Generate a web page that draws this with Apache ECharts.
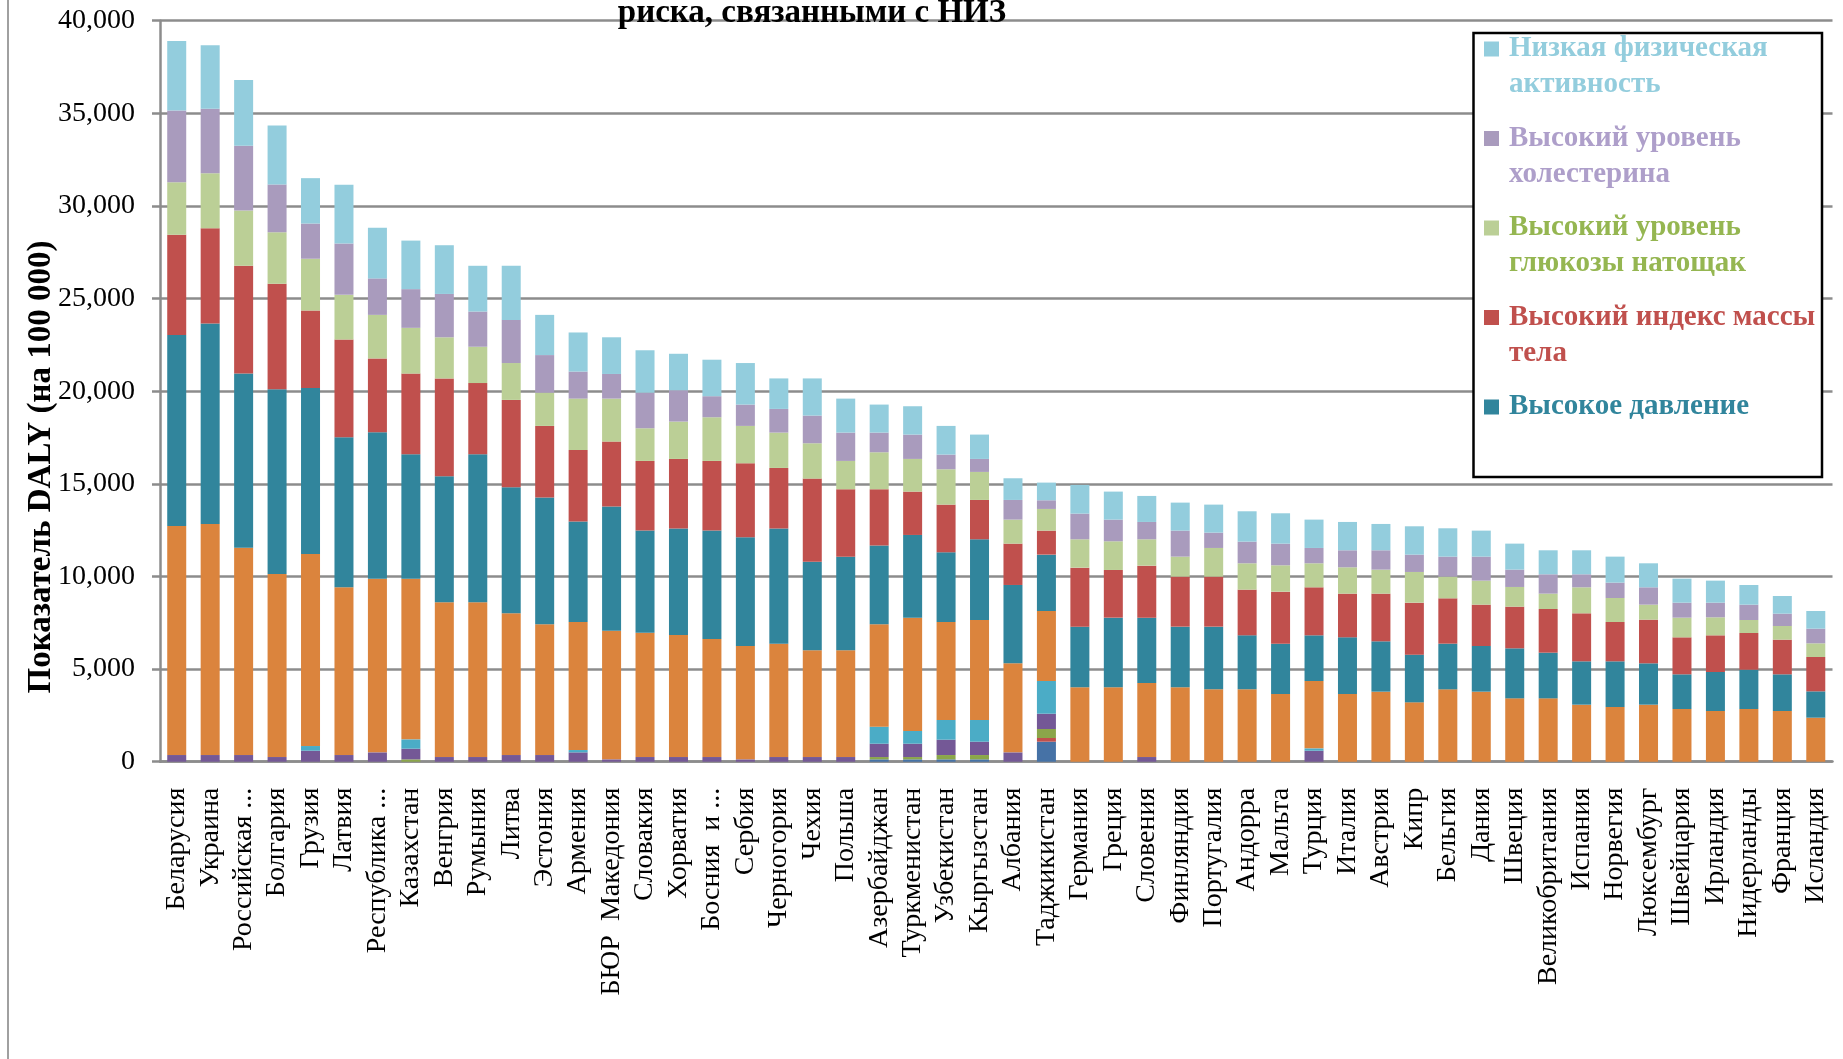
<!DOCTYPE html>
<html lang="ru">
<head>
<meta charset="utf-8">
<title>DALY</title>
<script src="https://cdn.jsdelivr.net/npm/echarts@6/dist/echarts.min.js"></script>
<style>
  html, body { margin: 0; padding: 0; background: #fff; }
  #chart { width: 1843px; height: 1059px; }
</style>
</head>
<body>
<div id="chart"></div>
<script>
// Страны (по убыванию суммарного показателя)
const countries = [
  'Беларусия', 'Украина', 'Российская ...', 'Болгария', 'Грузия', 'Латвия',
  'Республика ...', 'Казахстан', 'Венгрия', 'Румыния', 'Литва', 'Эстония',
  'Армения', 'БЮР  Македония', 'Словакия', 'Хорватия', 'Босния  и ...', 'Сербия',
  'Черногория', 'Чехия', 'Польша', 'Азербайджан', 'Туркменистан', 'Узбекистан',
  'Кыргызстан', 'Албания', 'Таджикистан', 'Германия', 'Греция', 'Словения',
  'Финляндия', 'Португалия', 'Андорра', 'Мальта', 'Турция', 'Италия',
  'Австрия', 'Кипр', 'Бельгия', 'Дания', 'Швеция', 'Великобритания',
  'Испания', 'Норвегия', 'Люксембург', 'Швейцария', 'Ирландия', 'Нидерланды',
  'Франция', 'Исландия'
];

// Нижние (малые) составляющие
const factorA = [0,0,0,0,0,0,0,0,0,0,0,0,0,0,0,0,0,0,0,0,0,126,126,126,126,0,1080,0,0,0,0,0,0,0,0,0,0,0,0,0,0,0,0,0,0,0,0,0,0,0];
const factorB = [0,0,0,0,0,0,0,0,0,0,0,0,0,0,0,0,0,0,0,0,0,0,0,0,0,0,198,0,0,0,0,0,0,0,0,0,0,0,0,0,0,0,0,0,0,0,0,0,0,0];
const factorC = [0,0,0,0,0,0,0,126,0,0,0,0,0,0,0,0,0,0,0,0,0,126,126,234,234,0,486,0,0,0,0,0,0,0,0,0,0,0,0,0,0,0,0,0,0,0,0,0,0,0];
const factorD = [360,360,360,252,594,360,504,576,252,252,360,360,504,126,252,252,252,126,252,252,252,720,720,828,720,504,828,0,0,252,0,0,0,0,594,0,0,0,0,0,0,0,0,0,0,0,0,0,0,0];
const factorE = [0,0,0,0,252,0,0,504,0,0,0,0,126,0,0,0,0,0,0,0,0,918,684,1062,1170,0,1764,0,0,0,0,0,0,0,126,0,0,0,0,0,0,0,0,0,0,0,0,0,0,0];
const factorF = [12366,12474,11196,9882,10368,9054,9378,8676,8352,8352,7650,7056,6912,6948,6714,6588,6372,6120,6120,5760,5760,5526,6120,5292,5400,4806,3780,4014,4014,3996,4014,3906,3906,3654,3636,3654,3780,3204,3906,3780,3420,3420,3078,2952,3078,2844,2736,2844,2736,2376];

// Факторы, показанные в легенде
const bloodPressure = [10314,10816,9394,9966,8956,8100,7902,6714,6804,7992,6804,6840,5418,6696,5508,5742,5850,5868,6210,4788,5058,4248,4464,3762,4356,4230,3042,3276,3762,3528,3276,3384,2916,2718,2466,3060,2718,2574,2466,2466,2700,2466,2340,2466,2232,1872,2106,2124,1980,1422];
const bodyMassIndex = [5410,5150,5820,5700,4190,5276,3986,4354,5282,3844,4716,3870,3870,3510,3762,3762,3762,3996,3276,4482,3636,3042,2340,2574,2124,2232,1296,3186,2574,2808,2700,2700,2466,2808,2592,2358,2574,2808,2448,2232,2250,2358,2592,2124,2358,1998,1980,1980,1872,1854];
const fastingGlucose = [2830,2970,2980,2780,2790,2410,2350,2470,2220,1960,1990,1794,2770,2320,1764,2016,2358,2016,1908,1908,1530,1998,1764,1908,1512,1296,1170,1530,1548,1422,1080,1548,1422,1422,1296,1422,1296,1656,1170,1296,1062,828,1404,1296,810,1062,972,702,738,738];
const cholesterol = [3870,3480,3500,2580,1900,2770,1970,2090,2340,1900,2330,2030,1460,1330,1920,1690,1136,1152,1278,1494,1530,1062,1314,792,702,1062,468,1386,1170,936,1404,828,1170,1170,828,918,1044,936,1080,1296,936,1044,702,828,936,810,792,828,666,792];
const physicalInactivity = [3750,3430,3550,3180,2450,3180,2730,2620,2630,2470,2920,2170,2110,1980,2290,1970,1970,2242,1646,2006,1834,1512,1530,1548,1314,1170,954,1548,1512,1404,1512,1512,1638,1638,1530,1530,1422,1530,1530,1404,1404,1296,1296,1404,1296,1296,1188,1062,954,954];

// Подписи оси Y
const yTicks = { min: 0, max: 40000, step: 5000 };

const SERIF = "'Liberation Serif', 'Times New Roman', serif";

// Порядок слоёв стека снизу вверх
const stackDefs = [
  { name: 'Фактор A', data: factorA, color: '#4672A6' },
  { name: 'Фактор B', data: factorB, color: '#C0504D' },
  { name: 'Фактор C', data: factorC, color: '#8BA64A' },
  { name: 'Фактор D', data: factorD, color: '#745896' },
  { name: 'Фактор E', data: factorE, color: '#4BACC6' },
  { name: 'Фактор F', data: factorF, color: '#DB843D' },
  { name: 'Высокое давление', data: bloodPressure, color: '#31859C' },
  { name: 'Высокий индекс массы тела', data: bodyMassIndex, color: '#C0504D' },
  { name: 'Высокий уровень глюкозы натощак', data: fastingGlucose, color: '#BBCF96' },
  { name: 'Высокий уровень холестерина', data: cholesterol, color: '#A99BBD' },
  { name: 'Низкая физическая активность', data: physicalInactivity, color: '#93CDDD' }
];

// Легенда: две строки на пункт, цвет текста как у ряда
const legendItems = [
  { name: 'Низкая физическая активность', lines: ['Низкая физическая', 'активность'], marker: '#93CDDD', text: '#93CDDD' },
  { name: 'Высокий уровень холестерина', lines: ['Высокий уровень', 'холестерина'], marker: '#A99BBD', text: '#AE9FCA' },
  { name: 'Высокий уровень глюкозы натощак', lines: ['Высокий уровень', 'глюкозы натощак'], marker: '#BBCF96', text: '#95B651' },
  { name: 'Высокий индекс массы тела', lines: ['Высокий индекс массы', 'тела'], marker: '#C0504D', text: '#C0504D' },
  { name: 'Высокое давление', lines: ['Высокое давление'], marker: '#31859C', text: '#31859C' }
];

const rich = {
  g: { width: 10, height: 36, lineHeight: 36 },
  p: { width: 25, height: 36, lineHeight: 36 }
};
legendItems.forEach((it, k) => {
  rich['m' + k] = { width: 15, height: 15, backgroundColor: it.marker, verticalAlign: 'middle' };
  rich['t' + k] = {
    color: it.text, fontFamily: SERIF, fontWeight: 'bold', fontSize: 29,
    lineHeight: 36, verticalAlign: 'middle'
  };
});

const chart = echarts.init(document.getElementById('chart'), null, { renderer: 'canvas' });

chart.setOption({
  backgroundColor: '#ffffff',
  animation: false,
  grid: { left: 160, right: 10.5, top: 20.7, bottom: 297.3, containLabel: false },
  xAxis: {
    type: 'category',
    data: countries,
    axisLine: { show: true, lineStyle: { color: '#8c8c8c', width: 2.5 } },
    axisTick: { show: false },
    axisLabel: {
      interval: 0, rotate: 90, margin: 26,
      fontFamily: SERIF, fontSize: 28, color: '#000'
    }
  },
  yAxis: {
    type: 'value',
    min: yTicks.min, max: yTicks.max, interval: yTicks.step,
    axisLine: { show: true, lineStyle: { color: '#8c8c8c', width: 2.5 } },
    axisTick: { show: true, length: 8, lineStyle: { color: '#8c8c8c', width: 2.5 } },
    splitLine: { show: true, lineStyle: { color: '#8c8c8c', width: 2.5 } },
    axisLabel: {
      margin: 25, fontFamily: SERIF, fontSize: 28, color: '#000',
      formatter: v => v.toLocaleString('en-US')
    }
  },
  legend: {
    orient: 'vertical',
    left: 1474, top: 26,
    itemGap: 17.5, itemWidth: 0, itemHeight: 0,
    selectedMode: false,
    z: 10,
    data: legendItems.map(it => it.name),
    formatter: name => {
      const k = legendItems.findIndex(it => it.name === name);
      const it = legendItems[k];
      let s = `{m${k}|}{g|}{t${k}|${it.lines[0]}}`;
      if (it.lines[1]) s += `\n{p|}{t${k}|${it.lines[1]}}`;
      return s;
    },
    textStyle: { rich }
  },
  graphic: [
    {
      type: 'line', z: 1, silent: true,
      shape: { x1: 8, y1: 0, x2: 8, y2: 1059 },
      style: { stroke: '#a0a0a0', lineWidth: 2 }
    },
    {
      type: 'rect', z: 5, silent: true,
      shape: { x: 1473.5, y: 33, width: 348.5, height: 444 },
      style: { fill: '#ffffff', stroke: '#000000', lineWidth: 2.5 }
    },
    {
      type: 'text', z: 6, silent: true,
      x: 812, y: 13,
      style: {
        text: 'риска, связанными с НИЗ',
        fontFamily: SERIF, fontWeight: 'bold', fontSize: 33,
        fill: '#000', align: 'center', verticalAlign: 'middle'
      }
    },
    {
      type: 'text', z: 6, silent: true,
      x: 41, y: 467, rotation: Math.PI / 2,
      style: {
        text: 'Показатель DALY (на 100 000)',
        fontFamily: SERIF, fontWeight: 'bold', fontSize: 33,
        fill: '#000', align: 'center', verticalAlign: 'middle'
      }
    }
  ],
  series: stackDefs.map(d => ({
    name: d.name,
    type: 'bar',
    stack: 'total',
    barWidth: 19,
    data: d.data,
    itemStyle: { color: d.color },
    emphasis: { disabled: true }
  }))
});
</script>
</body>
</html>
